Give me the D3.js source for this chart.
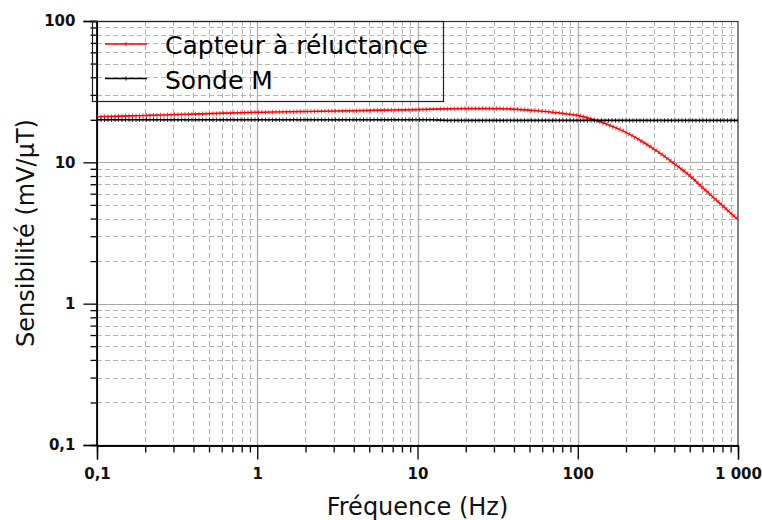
<!DOCTYPE html>
<html><head><meta charset="utf-8">
<script src="https://cdn.jsdelivr.net/npm/d3@7"></script>
<style>
body{margin:0;background:#fff;}
svg{display:block;font-family:"DejaVu Sans",sans-serif;}
</style></head>
<body>
<svg id="chart" width="762" height="520"></svg>
<script>
const freqs = [0.1,0.126,0.158,0.2,0.251,0.316,0.398,0.501,0.631,0.794,
  1,1.26,1.58,2,2.51,3.16,3.98,5.01,6.31,7.94,
  10,12.6,15.8,20,25.1,31.6,39.8,50.1,63.1,79.4,
  100,126,158,200,251,316,398,501,631,794,1000];
const capteur = [21.0,21.15,21.3,21.45,21.6,21.8,21.95,22.1,22.3,22.45,
  22.6,22.7,22.8,22.9,23.0,23.1,23.2,23.3,23.4,23.5,
  23.6,23.8,23.9,24.0,24.0,24.0,23.8,23.4,22.9,22.2,
  21.5,20.0,18.3,16.3,14.1,11.9,9.84,8.02,6.3,4.98,3.92];
const sonde = [20.0,20.0,20.0,20.0,20.0,20.0,20.0,20.0,20.0,20.0,
  20.0,20.0,20.0,20.0,20.0,20.0,20.0,20.0,20.0,20.0,
  20.0,20.0,19.8,19.8,19.8,19.8,19.8,19.8,19.8,19.8,
  19.8,19.8,19.8,19.8,19.8,19.8,19.8,19.8,19.8,19.8,19.8];
const seriesNames = ["Capteur à réluctance","Sonde M"];
const seriesColors = ["#ff0000","#000000"];
const xTickValues = [0.1,1,10,100,1000];
const xTickLabels = ["0,1","1","10","100","1 000"];
const yTickValues = [0.1,1,10,100];
const yTickLabels = ["0,1","1","10","100"];
const xTitle = "Fréquence (Hz)";
const yTitle = "Sensibilité (mV/µT)";

const svg = d3.select("#chart");
const L=97, R=738, T=21, B=445;
const x = d3.scaleLog().domain([0.1,1000]).range([L,R]);
const y = d3.scaleLog().domain([0.1,100]).range([B,T]);

// minor values
const xMinor=[], yMinor=[];
xTickValues.slice(0,-1).forEach(d=>{for(let k=2;k<=9;k++) xMinor.push(d*k);});
yTickValues.slice(0,-1).forEach(d=>{for(let k=2;k<=9;k++) yMinor.push(d*k);});

const grid = svg.append("g");
grid.selectAll(".vxm").data(xMinor).join("line")
  .attr("x1",d=>Math.round(x(d))+0.5).attr("x2",d=>Math.round(x(d))+0.5).attr("y1",T).attr("y2",B)
  .attr("stroke","#b4b4b4").attr("stroke-dasharray","5,3");
grid.selectAll(".hym").data(yMinor).join("line")
  .attr("y1",d=>Math.round(y(d))+0.5).attr("y2",d=>Math.round(y(d))+0.5).attr("x1",L).attr("x2",R)
  .attr("stroke","#b4b4b4").attr("stroke-dasharray","5,3");
grid.selectAll(".vx").data(xTickValues.slice(1,-1)).join("line")
  .attr("x1",d=>Math.round(x(d))+0.5).attr("x2",d=>Math.round(x(d))+0.5).attr("y1",T).attr("y2",B)
  .attr("stroke","#aaaaaa").attr("stroke-width",1.2);
grid.selectAll(".hy").data(yTickValues.slice(1,-1)).join("line")
  .attr("y1",d=>Math.round(y(d))+0.5).attr("y2",d=>Math.round(y(d))+0.5).attr("x1",L).attr("x2",R)
  .attr("stroke","#aaaaaa").attr("stroke-width",1.2);

// frame
svg.append("rect").attr("x",L+0.5).attr("y",T+0.5).attr("width",R-L-0.5).attr("height",B-T)
  .attr("fill","none").attr("stroke","#333").attr("stroke-width",1.2);

// axes
const xAxis = svg.append("g").attr("transform",`translate(0,${B+0.5})`)
  .call(d3.axisBottom(x).tickValues(xTickValues).tickFormat((d,i)=>xTickLabels[i]).tickSize(14).tickPadding(9));
const xAxisMinor = svg.append("g").attr("transform",`translate(0,${B+0.5})`)
  .call(d3.axisBottom(x).tickValues(xMinor).tickFormat("").tickSize(7));
const yAxis = svg.append("g").attr("transform",`translate(${L-0.5},0)`)
  .call(d3.axisLeft(y).tickValues(yTickValues).tickFormat((d,i)=>yTickLabels[i]).tickSize(13).tickPadding(8));
const yAxisMinor = svg.append("g").attr("transform",`translate(${L-0.5},0)`)
  .call(d3.axisLeft(y).tickValues(yMinor).tickFormat("").tickSize(6));
[xAxis,xAxisMinor,yAxis,yAxisMinor].forEach(g=>{
  g.select(".domain").attr("stroke","#000").attr("stroke-width",1.3);
  g.selectAll(".tick line").attr("stroke","#000").attr("stroke-width",1.3);
  g.selectAll("text").attr("font-family","DejaVu Sans").attr("font-size",15).attr("font-weight","bold").attr("fill","#111");
});
xAxis.selectAll(".tick text").attr("dy","0.71em");

// series
const line = d3.line().x(d=>x(d[0])).y(d=>y(d[1])).curve(d3.curveMonotoneX);
const allSeries = [capteur, sonde];
allSeries.forEach((vals,i)=>{
  const pts = freqs.map((f,j)=>[f,vals[j]]);
  svg.append("path").datum(pts).attr("d",line).attr("fill","none")
    .attr("stroke",seriesColors[i]).attr("stroke-width",1.6);
  svg.append("path").datum(pts).attr("d",line).attr("fill","none")
    .attr("stroke",seriesColors[i]).attr("stroke-width",4.5).attr("stroke-dasharray","1,2.5").attr("opacity",0.75);
});

// legend
const lg = svg.append("g");
lg.append("rect").attr("x",92.5).attr("y",T+0.5).attr("width",351).attr("height",80)
  .attr("fill","none").attr("stroke","#222").attr("stroke-width",1.2);
seriesNames.forEach((n,i)=>{
  const yy = 44 + i*34.5;
  lg.append("line").attr("x1",105).attr("x2",147).attr("y1",yy).attr("y2",yy)
    .attr("stroke",seriesColors[i]).attr("stroke-width",1.5);
  lg.append("line").attr("x1",126).attr("x2",126).attr("y1",yy-2).attr("y2",yy+2)
    .attr("stroke",seriesColors[i]).attr("stroke-width",1);
  lg.append("text").attr("x",165).attr("y",yy+10).attr("font-size",25).attr("fill","#000").text(n);
});

// titles
svg.append("text").attr("x",(L+R)/2).attr("y",515).attr("text-anchor","middle")
  .attr("font-size",24).attr("fill","#111").text(xTitle);
svg.append("text").attr("transform",`translate(34,${(T+B)/2}) rotate(-90)`).attr("text-anchor","middle")
  .attr("font-size",24).attr("fill","#111").text(yTitle);
</script>
</body></html>
